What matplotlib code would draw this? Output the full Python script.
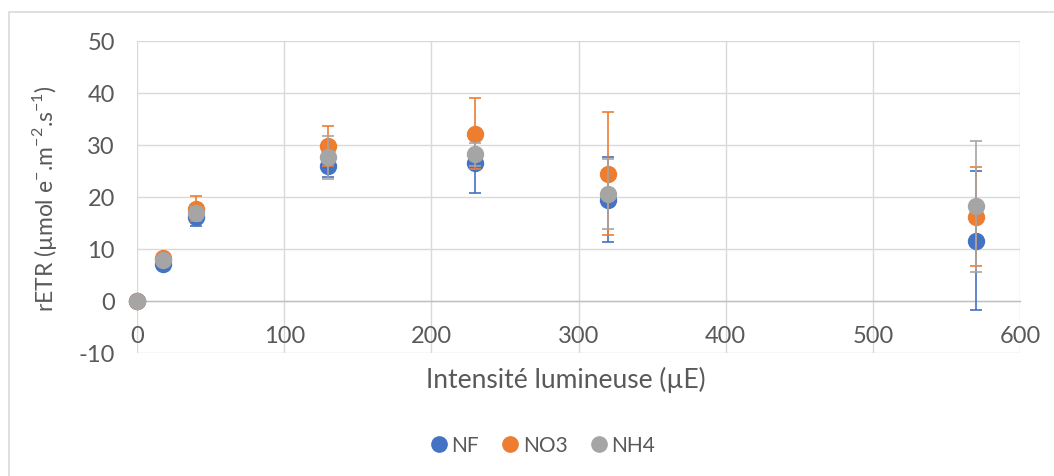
import matplotlib
matplotlib.use("Agg")
import matplotlib.pyplot as plt
from matplotlib.lines import Line2D
from matplotlib.patches import Rectangle

plt.rcParams['font.family'] = ['Lato', 'DejaVu Sans']
plt.rcParams['mathtext.fontset'] = 'custom'
plt.rcParams['mathtext.rm'] = 'Lato'
plt.rcParams['axes.unicode_minus'] = False

# light intensity (µE)
intensite = [0, 18, 40, 130, 230, 320, 570]

# rETR means and standard deviations per treatment
nf = [0, 7.2, 16.2, 25.9, 26.6, 19.5, 11.6]
nf_err = [0, 0.4, 1.7, 2.0, 5.9, 8.1, 13.4]
no3 = [0, 8.2, 17.7, 29.8, 32.2, 24.5, 16.2]
no3_err = [0, 0.4, 2.4, 3.9, 6.8, 11.8, 9.5]
nh4 = [0, 7.8, 17.0, 27.6, 28.2, 20.6, 18.2]
nh4_err = [0, 0.3, 1.0, 4.1, 2.2, 6.8, 12.6]

series = [
    ('NF', nf, nf_err, '#4472C4'),
    ('NO3', no3, no3_err, '#ED7D31'),
    ('NH4', nh4, nh4_err, '#A5A5A5'),
]

txt = '#595959'

fig = plt.figure(figsize=(10.54, 4.77), dpi=100)
ax = fig.add_axes([137/1054, 1-354/477, 883/1054, 312/477])

# outer frame of the chart area
fig.patches.append(Rectangle((9/1054, -0.1), 1.2, 1-13/477+0.1,
                             transform=fig.transFigure, fill=False,
                             edgecolor='#d9d9d9', lw=1.2))

for i, (name, y, err, col) in enumerate(series):
    cont = ax.errorbar(intensite, y, yerr=err, fmt='o', color=col, ecolor=col,
                       markersize=11.5, elinewidth=1.2, capsize=4.3,
                       capthick=1.2, zorder=3 + i)
    for art in cont.get_children():
        art.set_clip_on(False)

ax.set_xlim(0, 600)
ax.set_ylim(-10, 50)
ax.set_xticks(range(0, 601, 100))
ax.set_yticks(range(-10, 51, 10))

ax.grid(True, color='#d9d9d9', lw=1.0)
ax.set_axisbelow(True)
for s in ['top', 'right', 'left']:
    ax.spines[s].set_visible(False)
ax.spines['bottom'].set_position(('data', 0))
ax.spines['bottom'].set_color('#bfbfbf')
ax.spines['bottom'].set_linewidth(1.0)

ax.tick_params(axis='both', length=0, labelsize=17, labelcolor=txt)
ax.tick_params(axis='x', pad=17)
ax.tick_params(axis='y', pad=16)

fig.text(566/1054, 1-380/477, 'Intensité lumineuse (µE)', ha='center',
         va='center', fontsize=19, color=txt)
fig.text(45/1054, 1-199/477,
         r'rETR (µmol e$^{\mathregular{-}}$.m$^{\mathregular{-2}}$.s$^{\mathregular{-1}}$)',
         ha='center', va='center', rotation=90, fontsize=16.5, color=txt)

handles = [Line2D([], [], marker='o', ls='none', color=c, markersize=11)
           for _, _, _, c in series]
fig.legend(handles, [s[0] for s in series], loc='center',
           bbox_to_anchor=(542/1054, 1-446/477), ncol=3, frameon=False,
           fontsize=15, labelcolor=txt, handletextpad=0.1,
           columnspacing=1.0, handlelength=1.0)

fig.savefig('out.png', dpi=100)
